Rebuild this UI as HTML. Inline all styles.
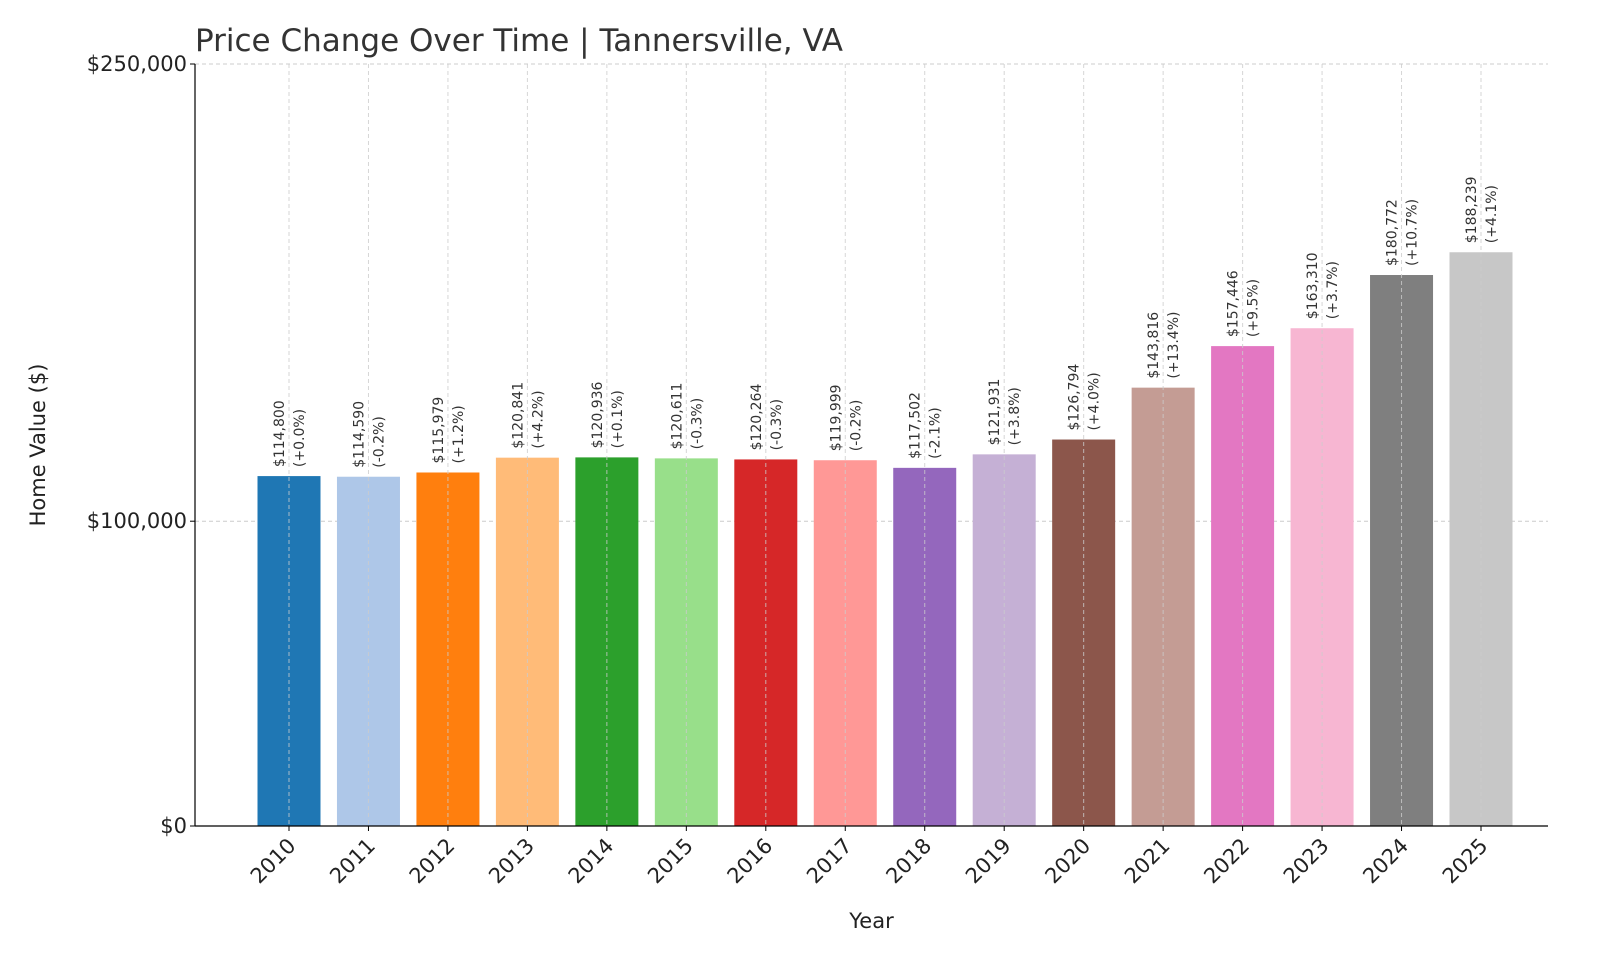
<!DOCTYPE html>
<html><head><meta charset="utf-8"><style>
body{margin:0;background:#fff;}
svg{display:block;font-family:"DejaVu Sans","Liberation Sans",sans-serif;}
</style></head><body>
<svg id="chart" width="1600" height="960"></svg>
<script>
const years=["2010","2011","2012","2013","2014","2015","2016","2017","2018","2019","2020","2021","2022","2023","2024","2025"];
const values=[114800,114590,115979,120841,120936,120611,120264,119999,117502,121931,126794,143816,157446,163310,180772,188239];
const pctLabels=["(+0.0%)","(-0.2%)","(+1.2%)","(+4.2%)","(+0.1%)","(-0.3%)","(-0.3%)","(-0.2%)","(-2.1%)","(+3.8%)","(+4.0%)","(+13.4%)","(+9.5%)","(+3.7%)","(+10.7%)","(+4.1%)"];
const yTicks=[0,100000,250000];
const yTickLabels=["$0","$100,000","$250,000"];
const colors=["#1f77b4","#aec7e8","#ff7f0e","#ffbb78","#2ca02c","#98df8a","#d62728","#ff9896","#9467bd","#c5b0d5","#8c564b","#c49c94","#e377c2","#f7b6d2","#7f7f7f","#c7c7c7"];
const svg=document.getElementById('chart');
const NS="http://www.w3.org/2000/svg";
const L=195,R=1548,T=64,B=826;
const yMax=250000;
const y=v=>B-(v/yMax)*(B-T);
const x0=289,step=(1481-289)/15;
const x=i=>x0+i*step;
function mk(tag,attrs,parent){const e=document.createElementNS(NS,tag);for(const k in attrs)e.setAttribute(k,attrs[k]);(parent||svg).appendChild(e);return e;}
yTicks.forEach((t,i)=>{
  const g=mk('line',{x1:L,x2:R,y1:y(t),y2:y(t),stroke:'#ccc','stroke-dasharray':'4,3','stroke-width':1});
  
  
  mk('line',{x1:L-5,x2:L,y1:y(t),y2:y(t),stroke:'#000'});
  const tx=mk('text',{x:L-8,y:y(t)+7,'text-anchor':'end','font-size':21,fill:'#222'});
  tx.textContent=yTickLabels[i];
  
  
});
years.forEach((yr,i)=>{
  const bw=63;
  const r=mk('rect',{x:x(i)-bw/2,y:y(values[i]),width:bw,height:B-y(values[i]),fill:colors[i]});
  
  
  const gl=mk('line',{x1:x(i),x2:x(i),y1:T,y2:B,stroke:'#ccc','stroke-dasharray':'4,3','stroke-width':1,opacity:0.8});
  
  
  mk('line',{x1:x(i),x2:x(i),y1:B,y2:B+5,stroke:'#000'});
  const top=y(values[i])-9;
  const t1=mk('text',{transform:`translate(${x(i)-5},${top}) rotate(-90)`,'font-size':14,fill:'#333'});
  t1.textContent='$'+values[i].toLocaleString('en-US');
  
  
  const t2=mk('text',{transform:`translate(${x(i)+15},${top}) rotate(-90)`,'font-size':14,fill:'#333'});
  t2.textContent=pctLabels[i];
  
  
  const xl=mk('text',{transform:`translate(${x(i)+8},${B+21}) rotate(-45)`,'text-anchor':'end','font-size':21,fill:'#222'});
  xl.textContent=yr;
  
  
});
const ax1=mk('line',{x1:L,x2:L,y1:T,y2:B,stroke:'#000','stroke-width':1.2});


const ax2=mk('line',{x1:L,x2:R,y1:B,y2:B,stroke:'#000','stroke-width':1.2});


const title=mk('text',{x:L,y:51,'font-size':31,fill:'#333'});
title.textContent='Price Change Over Time | Tannersville, VA';


const xt=mk('text',{x:(L+R)/2,y:928,'text-anchor':'middle','font-size':21,fill:'#222'});
xt.textContent='Year';


const yt=mk('text',{transform:'translate(45,445) rotate(-90)','text-anchor':'middle','font-size':21,fill:'#222'});
yt.textContent='Home Value ($)';


</script>
</body></html>
